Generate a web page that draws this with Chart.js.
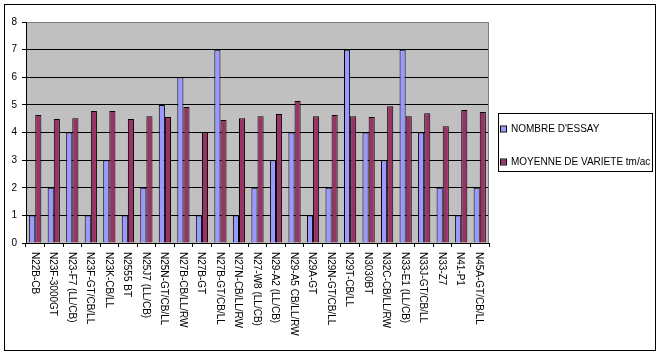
<!DOCTYPE html>
<html><head><meta charset="utf-8">
<script src="https://cdn.jsdelivr.net/npm/chart.js@4/dist/chart.umd.min.js"></script>
<style>html,body{margin:0;padding:0;background:#fff;}</style>
</head><body>
<canvas id="c" width="660" height="356"></canvas>
<script>
const categories = ["N22B-CB","N23F-3000GT","N23-F7 (LL/CB)","N23F-GT/CB/LL","N23K-CB/LL","N2555 BT","N25J7 (LL/CB)","N25N-GT/CB/LL","N27B-CB/LL/RW","N27B-GT","N27B-GT/CB/LL","N27N-CB/LL/RW","N27-W8 (LL/CB)","N29-A2 (LL/CB)","N29-A5 CB/LL/RW","N29A-GT","N29N-GT/CB/LL","N29T-CB/LL","N3030BT","N32C-CB/LL/RW","N33-E1 (LL/CB)","N33J-GT/CB/LL","N33-Z7","N41-P1","N45A-GT/CB/LL"];
const nombreEssay = [1,2,4,1,3,1,2,5,6,1,7,1,2,3,4,1,2,7,4,3,7,4,2,1,2];
const moyenneVariete = [4.63,4.49,4.52,4.78,4.78,4.49,4.59,4.56,4.92,4.00,4.45,4.52,4.59,4.67,5.14,4.59,4.63,4.59,4.56,4.95,4.59,4.70,4.23,4.81,4.74];
const yTicks = [0,1,2,3,4,5,6,7,8];
const seriesNames = ["NOMBRE D'ESSAY","MOYENNE DE VARIETE tm/ac"];
const seriesColors = ["#9999FF","#993366"];
const FONT = "'Liberation Sans', Arial, sans-serif";

const deco = {
  id: 'deco',
  beforeDraw(chart) {
    const {ctx, chartArea: a} = chart;
    ctx.save();
    ctx.fillStyle = '#fff';
    ctx.fillRect(0, 0, chart.width, chart.height);
    ctx.fillStyle = '#C0C0C0';
    ctx.fillRect(a.left, a.top, a.right - a.left, a.bottom - a.top);
    ctx.restore();
  },
  afterDraw(chart) {
    const {ctx, chartArea: a} = chart;
    const xs = chart.scales.x;
    ctx.save();
    // right border of plot area
    ctx.strokeStyle = '#808080';
    ctx.lineWidth = 1;
    ctx.beginPath();
    ctx.moveTo(Math.round(a.right) - 0.5, a.top);
    ctx.lineTo(Math.round(a.right) - 0.5, a.bottom);
    ctx.stroke();
    // rotated category labels
    ctx.fillStyle = '#000';
    ctx.font = '10px ' + FONT;
    ctx.textAlign = 'left';
    ctx.textBaseline = 'middle';
    categories.forEach((lab, i) => {
      const x = xs.getPixelForValue(i);
      ctx.save();
      ctx.translate(x - 1, a.bottom + 9);
      ctx.rotate(Math.PI / 2);
      ctx.fillText(lab, 0, 0);
      ctx.restore();
    });
    // legend box
    ctx.strokeStyle = '#000';
    ctx.strokeRect(498.5, 113.5, 154, 58);
    ctx.save();
    ctx.beginPath();
    ctx.rect(499, 114, 153, 57);
    ctx.clip();
    const ly = [129.5, 162.5];
    seriesNames.forEach((n, i) => {
      ctx.fillStyle = seriesColors[i];
      ctx.fillRect(501, ly[i] - 3, 5, 5);
      ctx.strokeStyle = '#000';
      ctx.strokeRect(500.5, ly[i] - 3.5, 6, 6);
      ctx.fillStyle = '#000';
      ctx.font = '10px ' + FONT;
      ctx.textBaseline = 'middle';
      ctx.fillText(n, 511, ly[i]);
    });
    ctx.restore();
    // outer border
    ctx.strokeStyle = '#000';
    ctx.strokeRect(4.5, 4.5, 651, 346);
    ctx.restore();
  }
};

new Chart(document.getElementById('c'), {
  type: 'bar',
  data: {
    labels: categories,
    datasets: [
      {label: seriesNames[0], data: nombreEssay, backgroundColor: seriesColors[0], borderColor: '#000', borderWidth: 1, barPercentage: 1, categoryPercentage: 0.66},
      {label: seriesNames[1], data: moyenneVariete, backgroundColor: seriesColors[1], borderColor: '#000', borderWidth: 1, barPercentage: 1, categoryPercentage: 0.66}
    ]
  },
  options: {
    responsive: false,
    devicePixelRatio: 1,
    animation: false,
    layout: {padding: {left: 0, top: 22, right: 171, bottom: 0}},
    plugins: {legend: {display: false}, tooltip: {enabled: false}},
    scales: {
      x: {
        offset: true,
        ticks: {display: false},
        grid: {display: true, offset: true, drawOnChartArea: false, drawTicks: true, tickLength: 4, color: '#000', tickColor: '#000'},
        border: {display: true, color: '#000', width: 1},
        afterFit(s) { s.height = 113; }
      },
      y: {
        min: 0, max: 8,
        afterBuildTicks(s) { s.ticks = yTicks.map(v => ({value: v})); },
        ticks: {stepSize: 1, color: '#000', padding: 5, font: {family: FONT, size: 10}},
        grid: {color: ctx => (ctx.tick && ctx.tick.value === 8) ? '#808080' : '#000', tickColor: '#000', tickLength: 4, drawTicks: true},
        border: {display: true, color: '#000', width: 1},
        afterFit(s) { s.width = 26; }
      }
    }
  },
  plugins: [deco]
});
</script>
</body></html>
